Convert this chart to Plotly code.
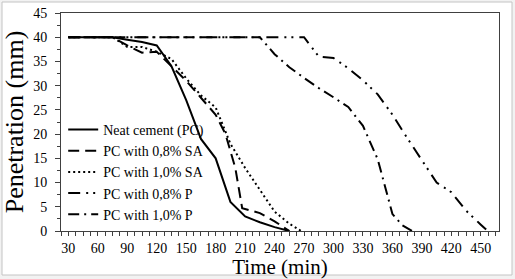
import plotly.graph_objects as go

# ---- data ----
t_pc = [30, 60, 75, 90, 105, 120, 135, 150, 165, 180, 195, 210, 225, 240, 255]
v_pc = [40, 40, 40, 39.5, 39, 38.3, 34, 27, 19, 15, 6, 3, 1.8, 0.8, 0]

t_sa08 = [30, 60, 75, 90, 105, 120, 135, 150, 165, 180, 190, 200, 207, 225, 240, 255]
v_sa08 = [40, 40, 40, 38.3, 36.8, 37, 34, 31, 27.5, 24, 20, 13, 4.7, 3.7, 2, 0]

t_sa10 = [30, 60, 75, 90, 105, 120, 135, 150, 165, 180, 195, 210, 225, 240, 255, 267]
v_sa10 = [40, 40, 40, 38, 38, 37, 35.5, 31.5, 28, 25.5, 18, 13, 8.5, 4, 1.5, 0]

t_p08 = [30, 60, 90, 120, 150, 180, 210, 240, 270, 285, 300, 315, 330, 345, 360, 375, 390, 405, 420, 435, 450, 457]
v_p08 = [40, 40, 40, 40, 40, 40, 40, 40, 40, 36, 35.7, 33.6, 31.1, 28.2, 24, 19.2, 14.6, 10, 8, 4.2, 1.3, 0]

t_p10 = [30, 60, 90, 120, 150, 180, 210, 225, 240, 255, 270, 285, 300, 315, 330, 345, 360, 370, 380]
v_p10 = [40, 40, 40, 40, 40, 40, 40, 40, 36.5, 33.8, 31.6, 29.5, 27.6, 25.6, 21.7, 14.8, 3.5, 1.2, 0]

names = ["Neat cement (PC)", "PC with 0,8% SA", "PC with 1,0% SA",
         "PC with 0,8% P", "PC with 1,0% P"]

x_ticks = [30, 60, 90, 120, 150, 180, 210, 240, 270, 300, 330, 360, 390, 420, 450]
y_ticks = [0, 5, 10, 15, 20, 25, 30, 35, 40, 45]

series = [
    (t_pc, v_pc, "solid"),
    (t_sa08, v_sa08, "11px,6px"),
    (t_sa10, v_sa10, "2px,3px"),
    (t_p08, v_p08, "12px,6px,2px,5px,2px,6px"),
    (t_p10, v_p10, "11px,5px,2px,5px"),
]

fig = go.Figure()
for (tx, vy, dash), nm in zip(series, names):
    fig.add_trace(go.Scatter(x=tx, y=vy, mode="lines", name=nm,
                             line=dict(color="black", width=2, dash=dash)))

FONT = "Liberation Serif"
L, R, T, B = 61, 16, 13, 48
W, H = 515, 279
pw, ph = W - L - R, H - T - B

def px_x(p):
    return (p - L) / pw

def px_y(p):
    return (H - B - p) / ph

fig.add_shape(type="rect", xref="paper", yref="paper",
              x0=px_x(2), x1=px_x(512), y0=px_y(275), y1=px_y(2),
              line=dict(color="#c4c4c4", width=1), fillcolor="white", layer="below")

fig.update_layout(
    width=W, height=H,
    margin=dict(l=L, r=R, t=T, b=B, autoexpand=False),
    paper_bgcolor="#f2f2f2",
    plot_bgcolor="white",
    font=dict(family=FONT, color="black", size=14),
    showlegend=True,
    legend=dict(x=0.005, y=0.005, xanchor="left", yanchor="bottom",
                bgcolor="rgba(0,0,0,0)", font=dict(family=FONT, size=14, color="black"),
                tracegroupgap=0, itemwidth=30),
    xaxis=dict(range=[22.5, 468.5], tickvals=x_ticks, ticktext=[str(v) for v in x_ticks],
               showline=True, linecolor="#404040", linewidth=1, mirror=True,
               ticks="outside", ticklen=4, tickcolor="#404040",
               minor=dict(dtick=7.5, tick0=22.5, ticks="outside", ticklen=4, tickcolor="#404040"),
               showgrid=False, zeroline=False, automargin=False,
               tickfont=dict(family=FONT, size=14, color="black"),
               title=dict(text="Time (min)", font=dict(family=FONT, size=21, color="black"),
                          standoff=0)),
    yaxis=dict(range=[0, 45], tickvals=y_ticks,
               showline=True, linecolor="#404040", linewidth=1, mirror=True,
               ticks="outside", ticklen=5, tickcolor="#404040",
               minor=dict(dtick=2.5, ticks="outside", ticklen=3, tickcolor="#404040"),
               showgrid=False, zeroline=False, ticklabelstandoff=5, automargin=False,
               tickfont=dict(family=FONT, size=14, color="black"),
               title=dict(text="Penetration (mm)", font=dict(family=FONT, size=26, color="black"),
                          standoff=2)),
)

fig.write_html("out.html", config={"displayModeBar": False},
               post_script="document.body.style.margin='0';")
